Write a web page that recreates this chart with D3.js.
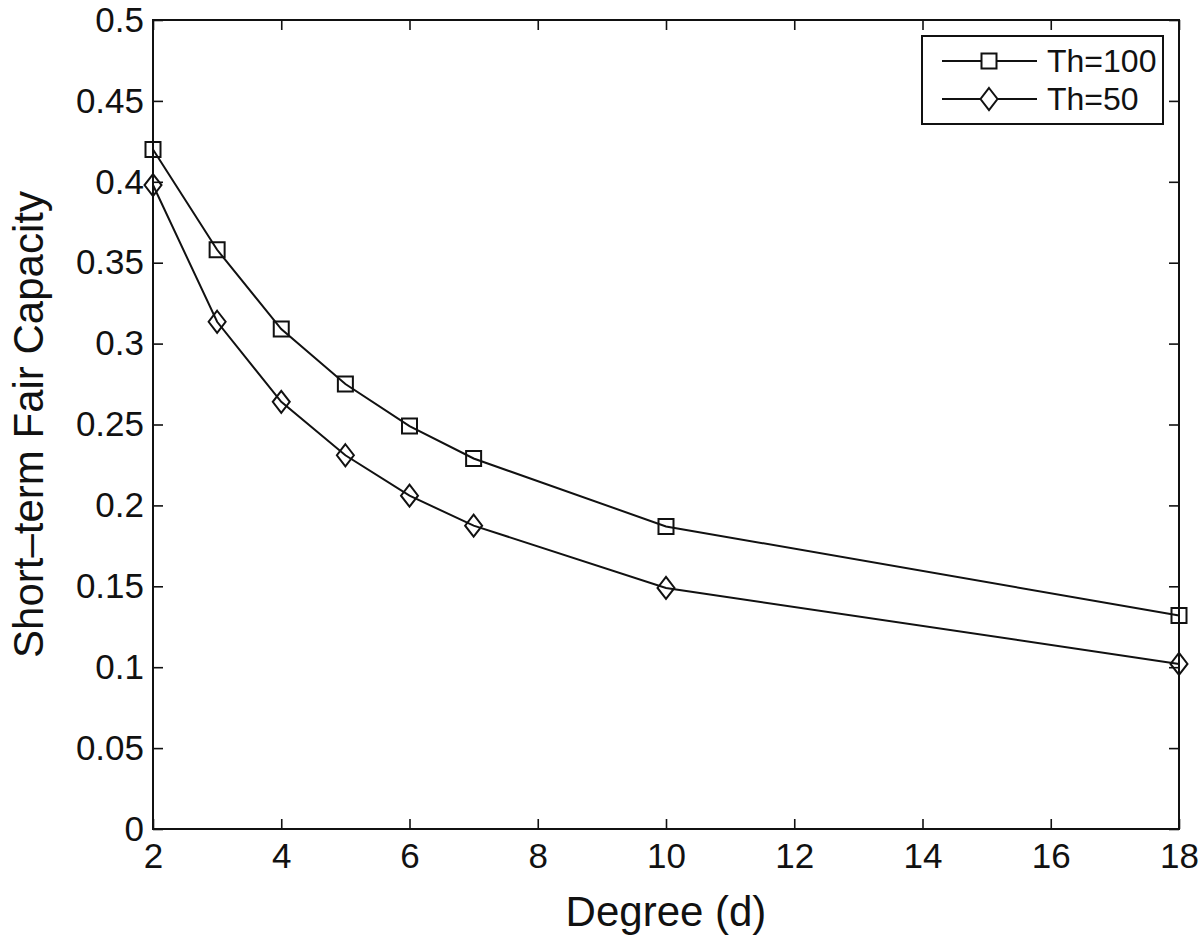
<!DOCTYPE html>
<html>
<head>
<meta charset="utf-8">
<script src="https://cdn.jsdelivr.net/npm/d3@7"></script>
<style>
  html, body { margin: 0; padding: 0; background: #fff; }
  svg { display: block; font-family: "Liberation Sans", Arial, Helvetica, sans-serif; }
</style>
</head>
<body>
<svg id="chart" width="1200" height="937"></svg>
<script>
const degrees = [2, 3, 4, 5, 6, 7, 10, 18];
const th100 = [0.420, 0.358, 0.309, 0.275, 0.249, 0.229, 0.187, 0.132];
const th50  = [0.398, 0.3135, 0.264, 0.231, 0.206, 0.1875, 0.149, 0.102];
const seriesNames = ["Th=100", "Th=50"];
const xTicks = [2, 4, 6, 8, 10, 12, 14, 16, 18];
const yTicks = [0, 0.05, 0.1, 0.15, 0.2, 0.25, 0.3, 0.35, 0.4, 0.45, 0.5];
const yTickLabels = ["0", "0.05", "0.1", "0.15", "0.2", "0.25", "0.3", "0.35", "0.4", "0.45", "0.5"];
const xLabel = "Degree (d)";
const yLabel = "Short\u2013term Fair Capacity";

const svg = d3.select("#chart");
const L = 153, R = 1179, T = 20, B = 829;
const x = d3.scaleLinear().domain([2, 18]).range([L, R]);
const y = d3.scaleLinear().domain([0, 0.5]).range([B, T]);

const tickFont = 35;

// axes
const gx = svg.append("g").attr("transform", `translate(0,${B})`)
  .call(d3.axisBottom(x).tickValues(xTicks).tickSizeInner(-10).tickSizeOuter(0).tickPadding(14).tickFormat(d3.format("d")));
const gy = svg.append("g").attr("transform", `translate(${L},0)`)
  .call(d3.axisLeft(y).tickValues(yTicks).tickSizeInner(-10).tickSizeOuter(0).tickPadding(9)
    .tickFormat((d, i) => yTickLabels[i]));
const gt = svg.append("g").attr("transform", `translate(0,${T})`)
  .call(d3.axisTop(x).tickValues(xTicks).tickSizeInner(-10).tickSizeOuter(0).tickFormat(""));
const gr = svg.append("g").attr("transform", `translate(${R},0)`)
  .call(d3.axisRight(y).tickValues(yTicks).tickSizeInner(-10).tickSizeOuter(0).tickFormat(""));

[gx, gy, gt, gr].forEach(g => {
  g.select(".domain").remove();
  g.selectAll(".tick line").attr("stroke", "#111").attr("stroke-width", 1.6);
  g.selectAll(".tick text").attr("fill", "#111").attr("font-size", tickFont)
    .attr("font-family", "'Liberation Sans', Arial, sans-serif");
});
// remove ticks sitting on box corners duplicates are fine; draw box
svg.append("rect").attr("x", L).attr("y", T).attr("width", R - L).attr("height", B - T)
  .attr("fill", "none").attr("stroke", "#111").attr("stroke-width", 2);

// axis labels
svg.append("text").attr("x", (L + R) / 2).attr("y", 926).attr("text-anchor", "middle")
  .attr("font-size", 42).attr("fill", "#111").text(xLabel);
svg.append("text").attr("transform", `translate(43,${(T + B) / 2}) rotate(-90)`)
  .attr("text-anchor", "middle").attr("font-size", 42).attr("fill", "#111").text(yLabel);

// data
const line = d3.line().x(d => x(d[0])).y(d => y(d[1]));
const data100 = degrees.map((d, i) => [d, th100[i]]);
const data50 = degrees.map((d, i) => [d, th50[i]]);

function squarePath(cx, cy, s) {
  return `M${cx - s / 2},${cy - s / 2}h${s}v${s}h${-s}Z`;
}
function diamondPath(cx, cy, w, h) {
  return `M${cx},${cy - h / 2}L${cx + w / 2},${cy}L${cx},${cy + h / 2}L${cx - w / 2},${cy}Z`;
}

const plot = svg.append("g");
plot.append("path").datum(data100).attr("d", line).attr("fill", "none").attr("stroke", "#111").attr("stroke-width", 2);
plot.append("path").datum(data50).attr("d", line).attr("fill", "none").attr("stroke", "#111").attr("stroke-width", 2);

plot.selectAll("path.sq").data(data100).enter().append("path").attr("class", "sq")
  .attr("d", d => squarePath(x(d[0]), y(d[1]), 15))
  .attr("fill", "none").attr("stroke", "#111").attr("stroke-width", 2);
plot.selectAll("path.dm").data(data50).enter().append("path").attr("class", "dm")
  .attr("d", d => diamondPath(x(d[0]), y(d[1]), 17, 22))
  .attr("fill", "none").attr("stroke", "#111").attr("stroke-width", 2);

// legend
const lg = svg.append("g");
lg.append("rect").attr("x", 922).attr("y", 36).attr("width", 241).attr("height", 88)
  .attr("fill", "#fff").attr("stroke", "#111").attr("stroke-width", 2);
const rows = [61, 99];
rows.forEach((ry, i) => {
  lg.append("line").attr("x1", 942).attr("x2", 1037).attr("y1", ry).attr("y2", ry)
    .attr("stroke", "#111").attr("stroke-width", 2);
  lg.append("path").attr("d", i === 0 ? squarePath(989, ry, 15) : diamondPath(989, ry, 17, 22))
    .attr("fill", "#fff").attr("stroke", "#111").attr("stroke-width", 2);
  lg.append("text").attr("x", 1047).attr("y", ry + 11).attr("font-size", 32).attr("fill", "#111")
    .text(seriesNames[i]);
});
</script>
</body>
</html>
